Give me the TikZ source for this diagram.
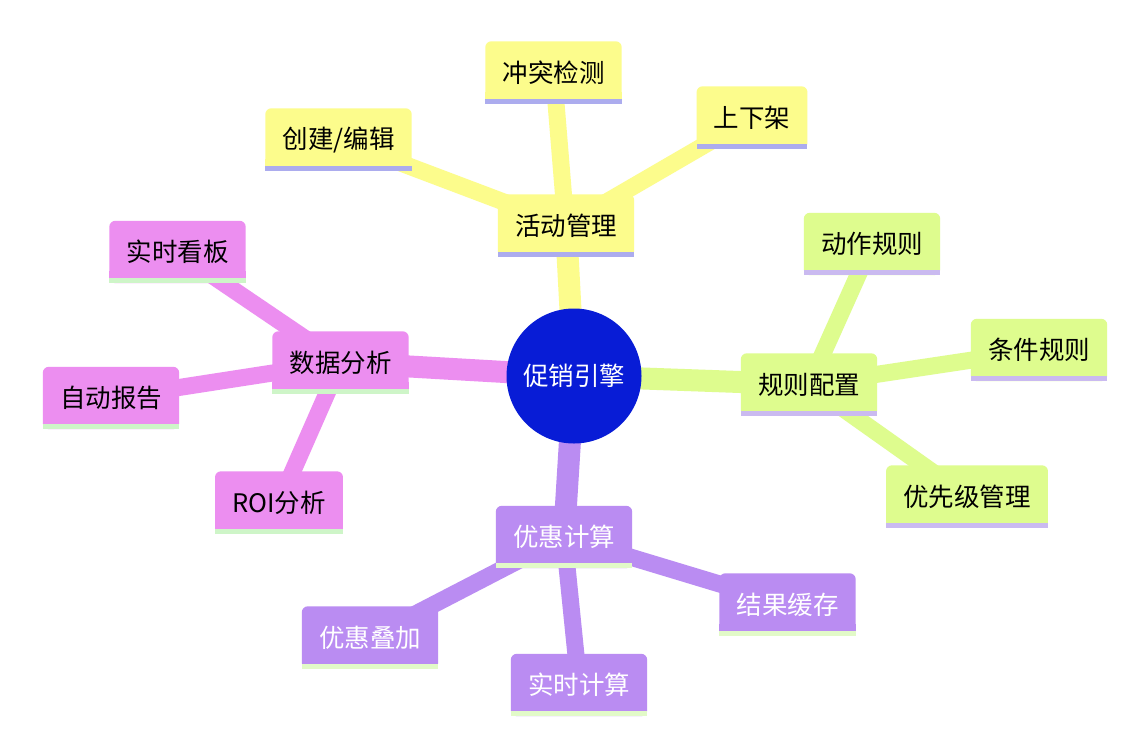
\documentclass[tikz,border=0pt]{standalone}
\usepackage{fontspec}
\setmainfont{Noto Sans CJK SC}
\pgfdeclarelayer{bg}
\pgfdeclarelayer{edges}
\pgfdeclarelayer{boxes}
\pgfsetlayers{bg,edges,boxes,main}
\definecolor{rootc}{RGB}{8,28,214}
\definecolor{yelc}{RGB}{252,252,140}
\definecolor{yelu}{RGB}{172,172,238}
\definecolor{grnc}{RGB}{222,252,142}
\definecolor{grnu}{RGB}{202,186,240}
\definecolor{pnkc}{RGB}{236,142,240}
\definecolor{pnku}{RGB}{206,245,200}
\definecolor{purc}{RGB}{186,140,242}
\definecolor{puru}{RGB}{226,250,200}
\tikzset{
  mm/.style={inner xsep=17pt, inner ysep=0pt, minimum height=62pt,
    font=\fontsize{25.5}{30}\selectfont, text=black},
  mmw/.style={mm, text=white},
  rootnode/.style={circle, fill=rootc, minimum size=135pt, inner sep=0pt,
    font=\fontsize{25.5}{30}\selectfont, text=white},
  e0/.style={line width=22pt},
  e1/.style={line width=17pt}
}
\newcommand\mmbox[3]{%
  \begin{pgfonlayer}{boxes}
    \fill[#2, rounded corners=6pt] (#1.south west) rectangle (#1.north east);
    \fill[#2] (#1.south west) rectangle ([yshift=12pt]#1.south east);
    \fill[#3] (#1.south west) rectangle ([yshift=5pt]#1.south east);
  \end{pgfonlayer}}
\begin{document}
\begin{tikzpicture}[x=1pt, y=-1pt]
\begin{pgfonlayer}{bg}
\fill[white] (0,0) rectangle (1134,744);
\end{pgfonlayer}
\useasboundingbox (0,0) rectangle (1134,744);
% root
\node[rootnode] (root) at (574,376) {促销引擎};
% yellow branch
\node[mm] (a)  at (566,225.5) {活动管理};
\node[mm] (a1) at (553.5,72.5) {冲突检测};
\node[mm] (a2) at (752,117.5) {上下架};
\node[mm] (a3) at (338.5,139.5) {创建/编辑};
% green branch
\node[mm] (b)  at (809,384.5) {规则配置};
\node[mm] (b1) at (872,244) {动作规则};
\node[mm] (b2) at (1039,350) {条件规则};
\node[mm] (b3) at (967,496.5) {优先级管理};
% pink branch
\node[mm] (c)  at (340.5,362.5) {数据分析};
\node[mm] (c1) at (177.5,252) {实时看板};
\node[mm] (c2) at (111,398) {自动报告};
\node[mm] (c3) at (279,502.5) {ROI分析};
% purple branch
\node[mmw] (d)  at (564,537) {优惠计算};
\node[mmw] (d1) at (370,637.5) {优惠叠加};
\node[mmw] (d2) at (579,685) {实时计算};
\node[mmw] (d3) at (787.5,604.5) {结果缓存};
% box shapes
\mmbox{a}{yelc}{yelu}\mmbox{a1}{yelc}{yelu}\mmbox{a2}{yelc}{yelu}\mmbox{a3}{yelc}{yelu}
\mmbox{b}{grnc}{grnu}\mmbox{b1}{grnc}{grnu}\mmbox{b2}{grnc}{grnu}\mmbox{b3}{grnc}{grnu}
\mmbox{c}{pnkc}{pnku}\mmbox{c1}{pnkc}{pnku}\mmbox{c2}{pnkc}{pnku}\mmbox{c3}{pnkc}{pnku}
\mmbox{d}{purc}{puru}\mmbox{d1}{purc}{puru}\mmbox{d2}{purc}{puru}\mmbox{d3}{purc}{puru}
% edges
\begin{pgfonlayer}{edges}
  \draw[e0, yelc] (root.center) -- (a.center);
  \draw[e1, yelc] (a.center) -- (a1.center);
  \draw[e1, yelc] (a.center) -- (a2.center);
  \draw[e1, yelc] (a.center) -- (a3.center);
  \draw[e0, grnc] (root.center) -- (b.center);
  \draw[e1, grnc] (b.center) -- (b1.center);
  \draw[e1, grnc] (b.center) -- (b2.center);
  \draw[e1, grnc] (b.center) -- (b3.center);
  \draw[e0, pnkc] (root.center) -- (c.center);
  \draw[e1, pnkc] (c.center) -- (c1.center);
  \draw[e1, pnkc] (c.center) -- (c2.center);
  \draw[e1, pnkc] (c.center) -- (c3.center);
  \draw[e0, purc] (root.center) -- (d.center);
  \draw[e1, purc] (d.center) -- (d1.center);
  \draw[e1, purc] (d.center) -- (d2.center);
  \draw[e1, purc] (d.center) -- (d3.center);
\end{pgfonlayer}
\end{tikzpicture}
\end{document}
